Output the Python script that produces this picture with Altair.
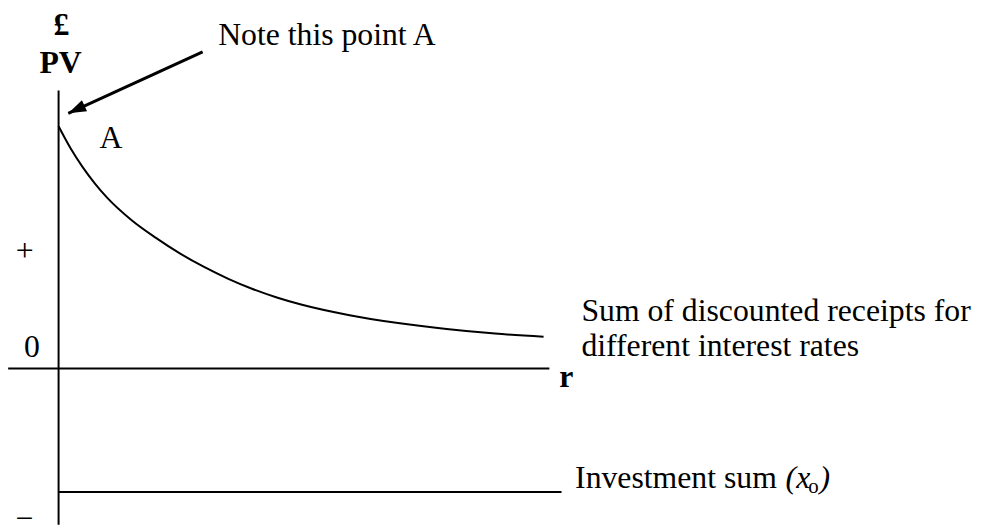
import altair as alt
import pandas as pd

# ---- data (r = interest rate units, pv = present value units) ----
# Sum of discounted receipts curve
curve_r = [0.0, 0.25, 0.5, 0.75, 1.0, 1.5, 2.0, 2.5, 3.0, 3.5, 4.0,
           4.5, 5.0, 6.0, 7.0, 8.0, 9.0, 10.0]
curve_pv = [100.0, 90.8, 83.0, 76.3, 70.5, 61.3, 54.0, 47.5, 41.9, 37.0, 32.8,
            29.3, 26.4, 22.0, 18.8, 16.3, 14.4, 13.1]

# straight segments: r axis, PV axis, investment sum line
seg_name = ["r axis", "PV axis", "investment"]
seg_r1 = [-1.04, 0.0, 0.0]
seg_r2 = [10.12, 0.0, 10.37]
seg_pv1 = [0.0, 114.7, -51.0]
seg_pv2 = [0.0, -64.5, -51.0]

# arrow pointing at A
arrow_r = [2.97, 0.20]
arrow_pv = [130.7, 105.3]

# labels
left_text = ["Note this point A", "Sum of discounted receipts for",
             "different interest rates", "Investment sum"]
left_r = [3.29, 10.78, 10.78, 10.65]
left_pv = [133.6, 19.4, 5.0, -49.4]

center_text = ["A", "+", "0", "\u2212"]
center_r = [1.08, -0.70, -0.55, -0.70]
center_pv = [91.0, 44.5, 4.6, -66.3]

bold_text = ["\u00a3", "PV", "r"]
bold_r = [0.06, 0.04, 10.47]
bold_pv = [137.7, 122.1, -7.6]

italic_text = ["(x", ")"]
italic_r = [14.99, 15.69]
italic_pv = [-49.4, -49.4]

sub_text = ["o"]
sub_r = [15.46]
sub_pv = [-51.4]

FONT = "Liberation Serif"
FS = 32

xs = alt.Scale(domain=[0, 10], range=[51, 540], zero=False, nice=False)
ys = alt.Scale(domain=[0, 100], range=[361.3, 117], zero=False, nice=False)

def X(f="r"):
    return alt.X(f"{f}:Q", scale=xs, axis=None)

def Y(f="pv"):
    return alt.Y(f"{f}:Q", scale=ys, axis=None)

curve_df = pd.DataFrame({"r": curve_r, "pv": curve_pv})
seg_df = pd.DataFrame({"name": seg_name, "r": seg_r1, "r2": seg_r2,
                       "pv": seg_pv1, "pv2": seg_pv2})
arrow_line_df = pd.DataFrame({"r": [arrow_r[0]], "r2": [arrow_r[1]],
                              "pv": [arrow_pv[0]], "pv2": [arrow_pv[1]]})
arrow_head_df = pd.DataFrame({"r": [arrow_r[1]], "pv": [arrow_pv[1]]})

segs = alt.Chart(seg_df).mark_rule(color="black", strokeWidth=2).encode(
    x=X(), x2="r2:Q", y=Y(), y2="pv2:Q")

curve = alt.Chart(curve_df).mark_line(
    color="black", strokeWidth=2, interpolate="monotone").encode(x=X(), y=Y())

arrow_line = alt.Chart(arrow_line_df).mark_rule(
    color="black", strokeWidth=3).encode(x=X(), x2="r2:Q", y=Y(), y2="pv2:Q")

arrow_head = alt.Chart(arrow_head_df).mark_point(
    shape="M0,0 L0.34,1 L-0.34,1 Z", size=1300, filled=True, opacity=1,
    color="black", angle=245, strokeWidth=0).encode(x=X(), y=Y())

def text_layer(txt, rr, pp, **kw):
    df = pd.DataFrame({"t": txt, "r": rr, "pv": pp})
    return alt.Chart(df).mark_text(font=FONT, color="black",
                                   baseline="alphabetic", **kw).encode(
        x=X(), y=Y(), text="t:N")

t_left = text_layer(left_text, left_r, left_pv, align="left", fontSize=FS)
t_center = text_layer(center_text, center_r, center_pv, align="center", fontSize=FS)
t_bold = text_layer(bold_text, bold_r, bold_pv, align="center", fontSize=FS,
                    fontWeight="bold")
t_italic = text_layer(italic_text, italic_r, italic_pv, align="left",
                      fontSize=FS, fontStyle="italic")
t_sub = text_layer(sub_text, sub_r, sub_pv, align="left", fontSize=21)

chart = alt.layer(segs, curve, arrow_line, arrow_head, t_left, t_center,
                  t_bold, t_italic, t_sub).properties(
    width=973, height=519, padding=0, autosize=alt.AutoSizeParams(type="none"),
    background="white"
).configure_view(stroke=None)

chart.save("out.html", embed_options={"renderer": "svg", "actions": False})
